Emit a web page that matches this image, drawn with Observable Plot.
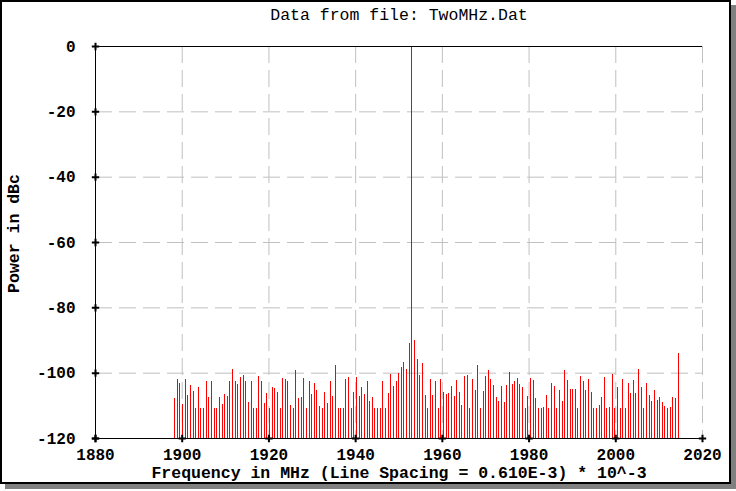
<!DOCTYPE html>
<html><head><meta charset="utf-8">
<script src="https://cdn.jsdelivr.net/npm/d3@7"></script>
<script src="https://cdn.jsdelivr.net/npm/@observablehq/plot@0.6"></script>
<style>
html,body{margin:0;padding:0;background:#fff;}
#wrap{position:relative;width:736px;height:491px;overflow:hidden;}
#box{position:absolute;left:0;top:0;width:727px;height:480px;border:2px solid #000;box-shadow:5px 5px 0 #808080;background:#fff;}
#chart{position:absolute;left:0;top:0;}
</style></head><body>
<div id="wrap"><div id="box"></div><div id="chart"></div></div>
<script>
const title = "Data from file: TwoMHz.Dat";
const xLabel = "Frequency in MHz (Line Spacing = 0.610E-3) * 10^-3";
const yLabel = "Power in dBc";
const xTicks = [1880, 1900, 1920, 1940, 1960, 1980, 2000, 2020];
const yTicks = [0, -20, -40, -60, -80, -100, -120];
const startFreq = 1898.25;
const lineSpacing = 0.608;
const powerDbc = [
  -107.9, -101.8, -103.1, -109.5, -101.8, -106.7, -103.7, -105.5, -110.7, -104.3,
  -110.7, -110.7, -102.7, -107.6, -102.7, -110.7, -110.7, -107.6, -109.5, -106.4,
  -107.0, -102.7, -98.8, -102.4, -103.4, -101.2, -100.6, -102.4, -108.9, -102.7,
  -110.7, -110.7, -100.9, -102.4, -109.2, -106.1, -110.7, -104.3, -104.6, -105.8,
  -110.7, -101.5, -101.8, -102.4, -109.8, -110.7, -99.1, -107.9, -107.6, -101.5,
  -110.7, -102.4, -106.4, -103.1, -105.2, -110.1, -110.7, -105.8, -109.2, -102.7,
  -107.0, -97.8, -110.7, -110.7, -110.7, -101.8, -101.2, -110.7, -105.8, -101.2,
  -107.0, -104.3, -106.4, -102.4, -108.6, -107.3, -110.7, -110.7, -110.7, -102.4,
  -110.7, -106.1, -100.3, -104.0, -102.7, -100.0, -98.2, -96.6, -98.8, -90.8,
  0, -89.9, -95.7, -100.6, -96.9, -106.7, -110.7, -101.8, -106.7, -102.4,
  -110.7, -101.8, -105.8, -106.4, -106.1, -104.0, -107.0, -102.1, -105.8, -109.8,
  -100.9, -100.6, -110.7, -101.8, -105.2, -97.5, -110.7, -105.5, -100.9, -99.1,
  -101.8, -103.7, -107.3, -108.6, -104.0, -108.9, -103.7, -99.7, -103.4, -102.4,
  -101.5, -103.4, -104.3, -110.7, -107.0, -101.5, -102.1, -107.9, -110.7, -110.7,
  -110.4, -106.7, -110.7, -103.1, -104.0, -110.7, -105.2, -108.6, -99.1, -102.1,
  -104.9, -104.9, -104.9, -110.7, -100.9, -102.7, -105.2, -101.8, -105.8, -110.7,
  -110.7, -109.8, -107.6, -101.2, -110.7, -110.4, -100.3, -110.7, -104.3, -110.7,
  -101.8, -110.7, -103.1, -106.1, -102.1, -106.1, -98.8, -104.3, -110.7, -103.1,
  -106.7, -108.6, -105.2, -108.3, -107.3, -108.9, -110.1, -110.7, -110.4, -107.3,
  -107.9, -93.9
];
const lines = powerDbc.map((p, i) => ({freq: startFreq + i * lineSpacing, power: p}));
const font = "'Liberation Mono', 'DejaVu Sans Mono', monospace";
const plain = d => String(d);
const plot = Plot.plot({
  width: 736, height: 491,
  marginLeft: 95, marginRight: 34, marginTop: 46, marginBottom: 53,
  style: {background: "transparent", fontFamily: font, color: "#000", overflow: "visible"},
  x: {domain: [1880, 2020], axis: null},
  y: {domain: [-120, 0], axis: null},
  marks: [
    Plot.gridX(xTicks.slice(1), {stroke: "#c0c0c0", strokeOpacity: 1, strokeDasharray: "17,7"}),
    Plot.gridY(yTicks.slice(1, -1), {stroke: "#c0c0c0", strokeOpacity: 1, strokeDasharray: "17,7"}),
    Plot.ruleX(lines, {x: "freq", y1: -120, y2: "power", stroke: "#ff0000", strokeWidth: 1, shapeRendering: "crispEdges"}),
    Plot.ruleY([0], {stroke: "#000", shapeRendering: "crispEdges"}),
    Plot.ruleY([-120], {stroke: "#000", shapeRendering: "crispEdges"}),
    Plot.ruleX([1880], {stroke: "#000", shapeRendering: "crispEdges"}),
    Plot.dot(yTicks, {x: () => 1880, y: d => d, symbol: "plus", r: 2.5, stroke: "#000", strokeWidth: 2}),
    Plot.dot(xTicks, {x: d => d, y: () => -120, symbol: "plus", r: 2.5, stroke: "#000", strokeWidth: 2}),
    Plot.axisX(xTicks, {tickSize: 0, tickPadding: 10, fontSize: 16, fontWeight: "bold", label: null, tickFormat: plain}),
    Plot.axisY(yTicks, {tickSize: 0, tickPadding: 20, fontSize: 16, fontWeight: "bold", label: null, tickFormat: plain}),
    Plot.text([title], {text: d => d, frameAnchor: "top", textAnchor: "middle", lineAnchor: "middle", dy: -32, fontSize: 16.5}),
    Plot.text([xLabel], {text: d => d, frameAnchor: "bottom", textAnchor: "middle", lineAnchor: "middle", dy: 34, fontSize: 16.5, fontWeight: "bold"}),
    Plot.text([yLabel], {text: d => d, frameAnchor: "left", textAnchor: "middle", lineAnchor: "middle", rotate: -90, dx: -82, dy: -9, fontSize: 16.5, fontWeight: "bold"})
  ]
});
document.getElementById("chart").appendChild(plot);
</script>
</body></html>
